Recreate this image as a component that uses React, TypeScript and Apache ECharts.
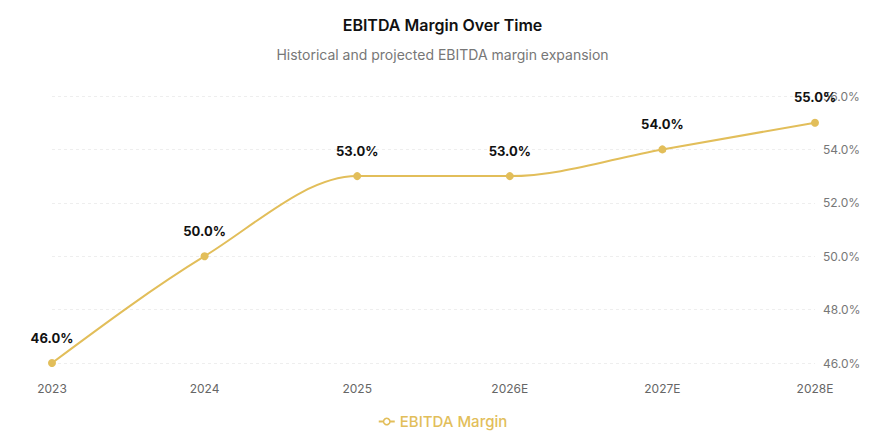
import { useEffect, useRef } from "react";
import * as echarts from "echarts";

// EBITDA margin, historical + projected (E)
const years = ["2023", "2024", "2025", "2026E", "2027E", "2028E"];
const margins = [46, 50, 53, 53, 54, 55];
const yTicks = { min: 46, max: 56, interval: 2 };

const GOLD = "#E2BE5A";
const FONT = "Inter, 'Noto Sans', sans-serif";

// monotone cubic (monotoneX) path through pixel points
function monotonePath(pts: number[][]): string {
  const n = pts.length;
  if (n < 2) return "";
  const sign = (v: number) => (v < 0 ? -1 : 1);
  const slopes: number[] = [];
  for (let i = 0; i < n - 1; i++) {
    slopes.push((pts[i + 1][1] - pts[i][1]) / (pts[i + 1][0] - pts[i][0]));
  }
  const t: number[] = new Array(n).fill(0);
  for (let i = 1; i < n - 1; i++) {
    const h0 = pts[i][0] - pts[i - 1][0];
    const h1 = pts[i + 1][0] - pts[i][0];
    const s0 = slopes[i - 1];
    const s1 = slopes[i];
    const p = (s0 * h1 + s1 * h0) / (h0 + h1);
    t[i] = (sign(s0) + sign(s1)) * Math.min(Math.abs(s0), Math.abs(s1), 0.5 * Math.abs(p)) || 0;
  }
  t[0] = (3 * slopes[0] - t[1]) / 2;
  t[n - 1] = (3 * slopes[n - 2] - t[n - 2]) / 2;
  let d = `M${pts[0][0]},${pts[0][1]}`;
  for (let i = 0; i < n - 1; i++) {
    const [x0, y0] = pts[i];
    const [x1, y1] = pts[i + 1];
    const dx = (x1 - x0) / 3;
    d += ` C${x0 + dx},${y0 + dx * t[i]} ${x1 - dx},${y1 - dx * t[i + 1]} ${x1},${y1}`;
  }
  return d;
}

export default function App() {
  const chartRef = useRef<HTMLDivElement>(null);

  useEffect(() => {
    document.body.style.margin = "0";
    if (!chartRef.current) return;
    const chart = echarts.init(chartRef.current, null, { renderer: "svg" });
    chart.setOption({
      animation: false,
      textStyle: { fontFamily: FONT },
      title: {
        text: "EBITDA Margin Over Time",
        subtext: "Historical and projected EBITDA margin expansion",
        left: "center",
        top: 12,
        itemGap: 14,
        textStyle: { fontSize: 16, fontWeight: 600, color: "#111", fontFamily: FONT },
        subtextStyle: { fontSize: 14, color: "#777", fontFamily: FONT },
      },
      legend: {
        bottom: 5,
        left: "center",
        data: ["EBITDA Margin"],
        itemWidth: 16,
        itemHeight: 8,
        itemGap: 4,
        lineStyle: { color: GOLD, width: 2, opacity: 1 },
        itemStyle: { color: "#fff", borderColor: GOLD, borderWidth: 1.5 },
        textStyle: { color: GOLD, fontSize: 15, fontWeight: 500, fontFamily: FONT },
      },
      grid: { left: 52, right: 70, top: 96, bottom: 76 },
      xAxis: {
        type: "category",
        data: years,
        boundaryGap: false,
        axisLine: { show: false },
        axisTick: { show: false },
        axisLabel: { color: "#666", fontSize: 12, margin: 19, fontFamily: FONT },
      },
      yAxis: {
        type: "value",
        position: "right",
        min: yTicks.min,
        max: yTicks.max,
        interval: yTicks.interval,
        axisLine: { show: false },
        axisTick: { show: false },
        axisLabel: {
          color: "#777",
          fontSize: 12,
          margin: 8,
          fontFamily: FONT,
          formatter: (v: number) => `${v.toFixed(1)}%`,
        },
        splitLine: { lineStyle: { color: "#eeeeee", type: [3, 3] } },
      },
      series: [
        {
          // the smooth line itself, drawn once from all points
          type: "custom",
          silent: true,
          data: margins.map((v, i) => [i, v]),
          encode: { x: 0, y: 1 },
          z: 1,
          renderItem: (params: any, api: any) => {
            if (params.dataIndex !== 0) return null;
            const pts = margins.map((v, i) => api.coord([i, v]));
            return {
              type: "path",
              shape: { pathData: monotonePath(pts) },
              style: { fill: "none", stroke: GOLD, lineWidth: 2 },
            };
          },
        },
        {
          name: "EBITDA Margin",
          type: "line",
          data: margins,
          z: 3,
          symbol: "circle",
          symbolSize: 8,
          lineStyle: { color: GOLD, width: 0, opacity: 0 },
          itemStyle: { color: GOLD },
          label: {
            show: true,
            position: "top",
            distance: 15,
            color: "#111",
            fontSize: 13,
            fontWeight: "bold",
            fontFamily: FONT,
            formatter: (p: any) => `${Number(p.value).toFixed(1)}%`,
          },
        },
      ],
    });
    return () => chart.dispose();
  }, []);

  return <div ref={chartRef} style={{ width: 885, height: 439 }} />;
}
